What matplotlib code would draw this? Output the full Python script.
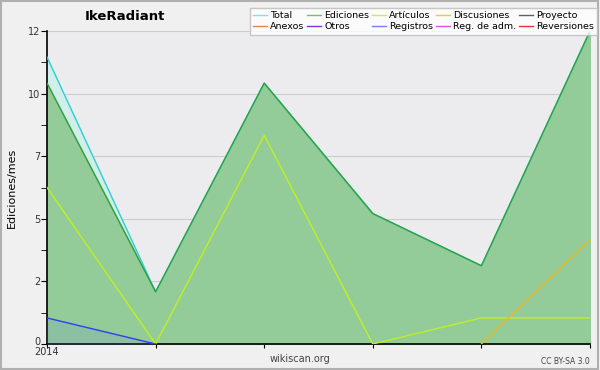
import numpy as np
import matplotlib.pyplot as plt
import matplotlib.transforms as mtransforms
from matplotlib.patches import Rectangle

x = [0, 1, 2, 3, 4, 5]
total = [11, 2, 10, 5, 3, 12]
ediciones = [10, 2, 10, 5, 3, 12]
articulos = [6, 0, 8, 0, 1, 1]
discusiones = [np.nan, np.nan, np.nan, np.nan, 0, 4]
registros = [1, 0, np.nan, np.nan, np.nan, np.nan]

yticks = [0, 2.4, 4.8, 7.2, 9.6, 12]
ylabels = ["0", "2", "5", "7", "10", "12"]

legend_names = ["Total", "Ediciones", "Artículos", "Discusiones", "Proyecto",
                "Anexos", "Otros", "Registros", "Reg. de adm.", "Reversiones"]
legend_colors = ["#7fe6e0", "#6cc46c", "#c8f03c", "#f8c828", "#606060",
                 "#f88040", "#8030e0", "#7080f8", "#e050f0", "#f03030"]

plt.rcParams['font.family'] = ['DejaVu Sans']
fig = plt.figure(figsize=(6, 3.7), dpi=100, facecolor="#f0f0f0")
fig.patches.append(Rectangle((0.002, 0.003), 0.995, 0.994, transform=fig.transFigure,
                             fill=False, edgecolor="#b0b0b0", lw=1.5))
ax = fig.add_axes([47/600, 26/370, 543/600, 313/370])
ax.set_facecolor("#ececee")

ax.fill_between(x, total, color="#d2eeea", zorder=1)
ax.fill_between(x, ediciones, color="#93cc98", zorder=2)
ax.fill_between(x, registros, color="#6070f0", alpha=0.12, zorder=3)

ax.plot(x, total, color="#30d0d0", lw=1, zorder=4)
ax.plot(x, ediciones, color="#30a040", lw=1, zorder=5)
ax.plot(x, articulos, color="#c0f020", lw=1, zorder=6)
ax.plot(x, discusiones, color="#f0b820", lw=1, zorder=6)
ax.plot(x, registros, color="#3040f0", lw=1, zorder=6)

ax.set_xlim(0, 5)
ax.set_ylim(0, 12)
ax.set_yticks(yticks)
ax.set_yticklabels(ylabels, fontsize=7, color="#333333")
ax.set_yticks([1.2, 3.6, 6.0, 8.4, 10.8], minor=True)
ax.set_xticks(x)
ax.set_xticklabels(["2014", "", "", "", "", ""], fontsize=7, color="#333333")
ax.tick_params(axis="x", direction="inout", length=6, pad=-1)
ax.tick_params(axis="y", which="both", direction="out", length=4, pad=1)
ax.grid(axis="y", color="#cccccc", lw=0.8, zorder=0)
ax.set_axisbelow(True)
for s in ["top", "right"]:
    ax.spines[s].set_visible(False)
ax.spines["left"].set_linewidth(1.2)
ax.spines["bottom"].set_linewidth(1.2)
ax.set_ylabel("Ediciones/mes", fontsize=8, labelpad=8)

# nudge the "0" label up a little so it sits above "2014"
lab0 = ax.get_yticklabels()[0]
lab0.set_transform(lab0.get_transform() + mtransforms.ScaledTranslation(0, 3/100, fig.dpi_scale_trans))

fig.text(85/600, 1 - 16/370, "IkeRadiant", fontsize=9.5, fontweight="bold", ha="left", va="center")
fig.text(300/600, 1 - 359/370, "wikiscan.org", fontsize=7, color="#444444", ha="center", va="center")
fig.text(590/600, 1 - 362/370, "CC BY-SA 3.0", fontsize=5.5, color="#444444", ha="right", va="center")

handles = [plt.Line2D([], [], color=c, lw=1) for c in legend_colors]
order = [0, 5, 1, 6, 2, 7, 3, 8, 4, 9]
leg = fig.legend([handles[i] for i in order], [legend_names[i] for i in order],
                 ncol=5, loc="upper right", bbox_to_anchor=(597/600, 1 - 8/370),
                 fontsize=6.8, frameon=True, fancybox=False, handlelength=1.5,
                 handletextpad=0.3, columnspacing=0.3, labelspacing=0.2,
                 borderpad=0.35, borderaxespad=0)
leg.get_frame().set_edgecolor("#bbbbbb")
leg.get_frame().set_facecolor("white")

fig.savefig("out.png", dpi=100, facecolor=fig.get_facecolor())
